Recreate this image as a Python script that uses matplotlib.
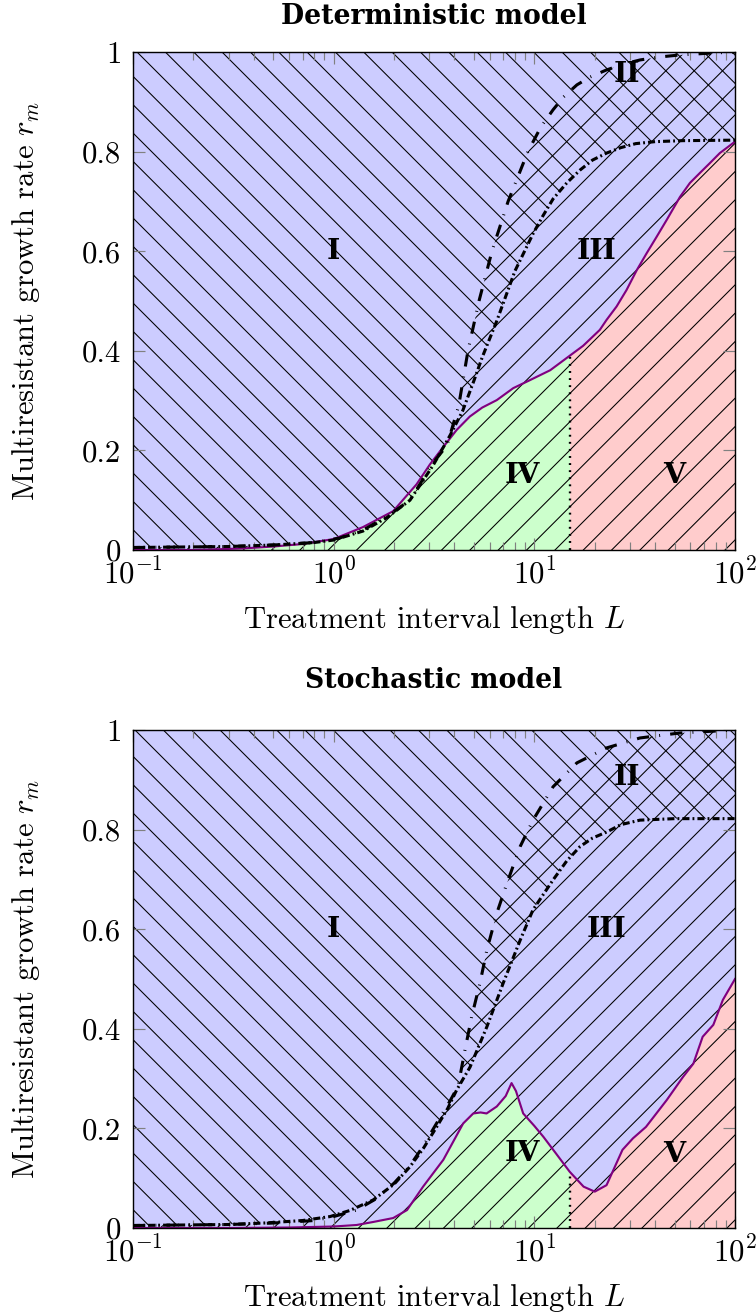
#!/usr/bin/env python3
"""Resistance regions (I-V) for the deterministic and stochastic models."""

import numpy as np
import matplotlib
matplotlib.use("Agg")
import matplotlib.pyplot as plt
from matplotlib.ticker import FixedLocator, FixedFormatter, LogLocator

DPI = 170

plt.rcParams["font.family"] = "serif"
plt.rcParams["font.serif"] = ["cmr10"]
plt.rcParams["mathtext.fontset"] = "cm"
plt.rcParams["axes.formatter.use_mathtext"] = True
plt.rcParams["hatch.linewidth"] = 0.45
plt.rcParams["font.size"] = 13

# ── Deterministic model (top)
DET_DASH_L = [0.1, 0.3, 0.5, 0.8, 1.07, 1.4, 1.84, 2.4, 3.13, 3.67, 4.2, 4.67, 5.3, 6.15,
              7.4, 9.29, 10.8, 12.4, 14.0, 16.3, 19.0, 22.9, 28.0, 33.6, 42.0, 53.0, 70.0, 100.0]
DET_DASH_Y = [0.005, 0.007, 0.01, 0.015, 0.024, 0.04, 0.067, 0.1, 0.175, 0.21, 0.29, 0.40, 0.50, 0.60,
              0.70, 0.80, 0.85, 0.884, 0.91, 0.934, 0.95, 0.964, 0.976, 0.984, 0.99, 0.994, 0.997, 1.0]

DET_DDOT_L = [0.1, 0.3, 0.5, 0.8, 1.0, 1.4, 1.84, 2.4, 3.13, 3.8, 4.4, 5.0, 5.5, 6.5, 8.0, 9.85,
              11.0, 12.4, 14.5, 16.9, 19.5, 22.9, 27.0, 32.0, 40.0, 55.0, 100.0]
DET_DDOT_Y = [0.005, 0.007, 0.01, 0.015, 0.02, 0.038, 0.065, 0.1, 0.17, 0.23, 0.28, 0.34, 0.387, 0.46,
              0.56, 0.635, 0.67, 0.705, 0.737, 0.763, 0.783, 0.797, 0.808, 0.816, 0.82, 0.822, 0.823]

DET_PURP_L = [0.1, 0.2, 0.35, 0.5, 0.7, 1.0, 1.4, 1.98, 2.59, 3.02, 3.52, 4.1, 4.77, 5.5, 6.5, 7.85,
              9.5, 12.0, 15.0, 17.5, 21.2, 22.9, 25.7, 28.8, 32.4, 36.3, 40.7, 45.7, 53.2, 59.6,
              66.8, 75.0, 84.0, 100.0]
DET_PURP_Y = [0.0, 0.0, 0.003, 0.007, 0.012, 0.022, 0.046, 0.078, 0.132, 0.172, 0.207, 0.241, 0.268,
              0.286, 0.301, 0.325, 0.341, 0.361, 0.39, 0.41, 0.442, 0.462, 0.489, 0.522, 0.562, 0.596,
              0.629, 0.663, 0.709, 0.737, 0.757, 0.777, 0.797, 0.82]

# ── Stochastic model (bottom)
STO_DASH_L = [0.1, 0.3, 0.5, 0.8, 1.0, 1.3, 1.6, 2.0, 2.4, 2.8, 3.2, 3.8, 4.17, 4.51, 4.87, 5.36,
              5.8, 6.5, 7.3, 8.5, 9.85, 12.4, 16.3, 22.9, 33.6, 53.0, 100.0]
STO_DASH_Y = [0.005, 0.007, 0.01, 0.015, 0.023, 0.036, 0.057, 0.09, 0.125, 0.165, 0.205, 0.255, 0.285,
              0.357, 0.424, 0.492, 0.558, 0.632, 0.692, 0.766, 0.819, 0.886, 0.934, 0.964, 0.984, 0.994, 1.0]

STO_DDOT_L = [0.1, 0.3, 0.45, 0.7, 0.96, 1.2, 1.57, 2.0, 2.4, 2.8, 3.26, 3.7, 4.1, 4.78, 5.8, 7.0,
              8.5, 9.85, 12.4, 14.5, 16.9, 19.5, 22.9, 27.0, 33.6, 50.0, 100.0]
STO_DDOT_Y = [0.005, 0.007, 0.01, 0.015, 0.023, 0.035, 0.056, 0.088, 0.123, 0.16, 0.203, 0.24, 0.277,
              0.323, 0.404, 0.492, 0.578, 0.639, 0.699, 0.737, 0.766, 0.783, 0.795, 0.81, 0.819, 0.822, 0.822]

STO_PURP_L = [0.1, 0.3, 0.6, 1.0, 1.3, 1.57, 1.98, 2.32, 2.79, 3.52, 4.42, 4.96, 5.4, 5.78, 6.5, 7.2,
              7.7, 8.1, 8.8, 10.0, 11.1, 12.8, 15.0, 17.6, 20.0, 22.9, 25.0, 27.5, 31.0, 36.0, 45.7,
              55.0, 62.0, 69.0, 78.0, 87.0, 100.0]
STO_PURP_Y = [0.0, 0.0, 0.001, 0.003, 0.006, 0.012, 0.02, 0.036, 0.083, 0.137, 0.21, 0.23, 0.232, 0.23,
              0.244, 0.265, 0.291, 0.275, 0.23, 0.205, 0.183, 0.15, 0.113, 0.083, 0.073, 0.086, 0.12,
              0.157, 0.18, 0.203, 0.257, 0.303, 0.33, 0.384, 0.408, 0.458, 0.50]

L_SPLIT = 15.0
Y_TICKS = [0, 0.2, 0.4, 0.6, 0.8, 1]
Y_TICKLABELS = ["0", "0.2", "0.4", "0.6", "0.8", "1"]

DET_LABELS = [("I", 1.0, 0.6), ("II", 29.0, 0.954), ("III", 20.4, 0.6), ("IV", 8.7, 0.15), ("V", 50.0, 0.15)]
STO_LABELS = [("I", 1.0, 0.6), ("II", 29.0, 0.905), ("III", 23.0, 0.6), ("IV", 8.7, 0.15), ("V", 50.0, 0.148)]

BLUE = "#ccccff"
GREEN = "#ccffcc"
RED = "#ffcccc"
PURPLE = "#800080"
BOLD_FONT = dict(family="DejaVu Serif", weight="bold")


def draw_panel(ax, dash_L, dash_y, ddot_L, ddot_y, purp_L, purp_y, labels, title, title_pad):
    dash_L, dash_y = np.array(dash_L), np.array(dash_y)
    ddot_L, ddot_y = np.array(ddot_L), np.array(ddot_y)
    purp_L, purp_y = np.array(purp_L), np.array(purp_y)

    # colour fills
    ax.fill_between(purp_L, purp_y, 1, color=BLUE, lw=0, zorder=1)
    ax.fill_between(purp_L, 0, purp_y, where=purp_L <= L_SPLIT, color=GREEN, lw=0, zorder=1)
    ax.fill_between(purp_L, 0, purp_y, where=purp_L >= L_SPLIT, color=RED, lw=0, zorder=1)

    # hatches: "\" above dash-dot curve, "/" below dashed curve -> crosshatch between
    ax.fill_between(ddot_L, ddot_y, 1, facecolor="none", edgecolor="black", hatch="\\\\", lw=0, zorder=1.5)
    ax.fill_between(dash_L, 0, dash_y, facecolor="none", edgecolor="black", hatch="//", lw=0, zorder=1.5)

    y_split = purp_y[list(purp_L).index(L_SPLIT)]
    ax.vlines(L_SPLIT, 0, y_split, colors="black", linestyles=(0, (0.8, 2.2)), lw=1.0, zorder=3)

    ax.plot(purp_L, purp_y, color=PURPLE, lw=0.9, zorder=3)
    ax.plot(ddot_L, ddot_y, color="black", lw=1.3, ls=(0, (2.3, 1.0, 0.6, 1.0)), zorder=3.2)
    ax.plot(dash_L, dash_y, color="black", lw=1.3, ls=(0, (4.0, 3.3, 0.3, 3.3)), zorder=3.1)

    for txt, x, y in labels:
        ax.text(x, y, txt, fontsize=12, ha="center", va="center", zorder=4, **BOLD_FONT)

    ax.set_xscale("log")
    ax.set_xlim(0.1, 100)
    ax.set_ylim(0, 1)
    ax.xaxis.set_major_locator(LogLocator(base=10, numticks=10))
    ax.xaxis.set_minor_locator(LogLocator(base=10, subs=np.arange(2, 10), numticks=10))
    ax.yaxis.set_major_locator(FixedLocator(Y_TICKS))
    ax.yaxis.set_major_formatter(FixedFormatter(Y_TICKLABELS))
    ax.tick_params(which="both", direction="in", top=True, right=True, color="0.5", labelsize=13)
    ax.tick_params(which="major", length=5.0, width=0.5)
    ax.tick_params(which="minor", length=3.3, width=0.5)
    ax.tick_params(axis="y", pad=5)
    ax.tick_params(axis="x", pad=3.5)
    for s in ax.spines.values():
        s.set_linewidth(0.6)
        s.set_zorder(5)

    ax.set_xlabel("Treatment interval length $L$", fontsize=13, labelpad=6)
    ax.set_ylabel("Multiresistant growth rate $r_m$", fontsize=13, labelpad=17)
    ax.set_title(title, fontsize=11.3, pad=title_pad, **BOLD_FONT)


def main():
    W, H = 756, 1316
    fig = plt.figure(figsize=(W / DPI, H / DPI), dpi=DPI)
    left, right = 133 / W, 735 / W
    ax1 = fig.add_axes([left, 1 - 550 / H, right - left, (550 - 52) / H])
    ax2 = fig.add_axes([left, 1 - 1228 / H, right - left, (1228 - 730) / H])

    draw_panel(ax1, DET_DASH_L, DET_DASH_Y, DET_DDOT_L, DET_DDOT_Y, DET_PURP_L, DET_PURP_Y,
               DET_LABELS, "Deterministic model", 12)
    draw_panel(ax2, STO_DASH_L, STO_DASH_Y, STO_DDOT_L, STO_DDOT_Y, STO_PURP_L, STO_PURP_Y,
               STO_LABELS, "Stochastic model", 18)

    fig.savefig("out.png", dpi=DPI)
    plt.close(fig)


if __name__ == "__main__":
    main()
